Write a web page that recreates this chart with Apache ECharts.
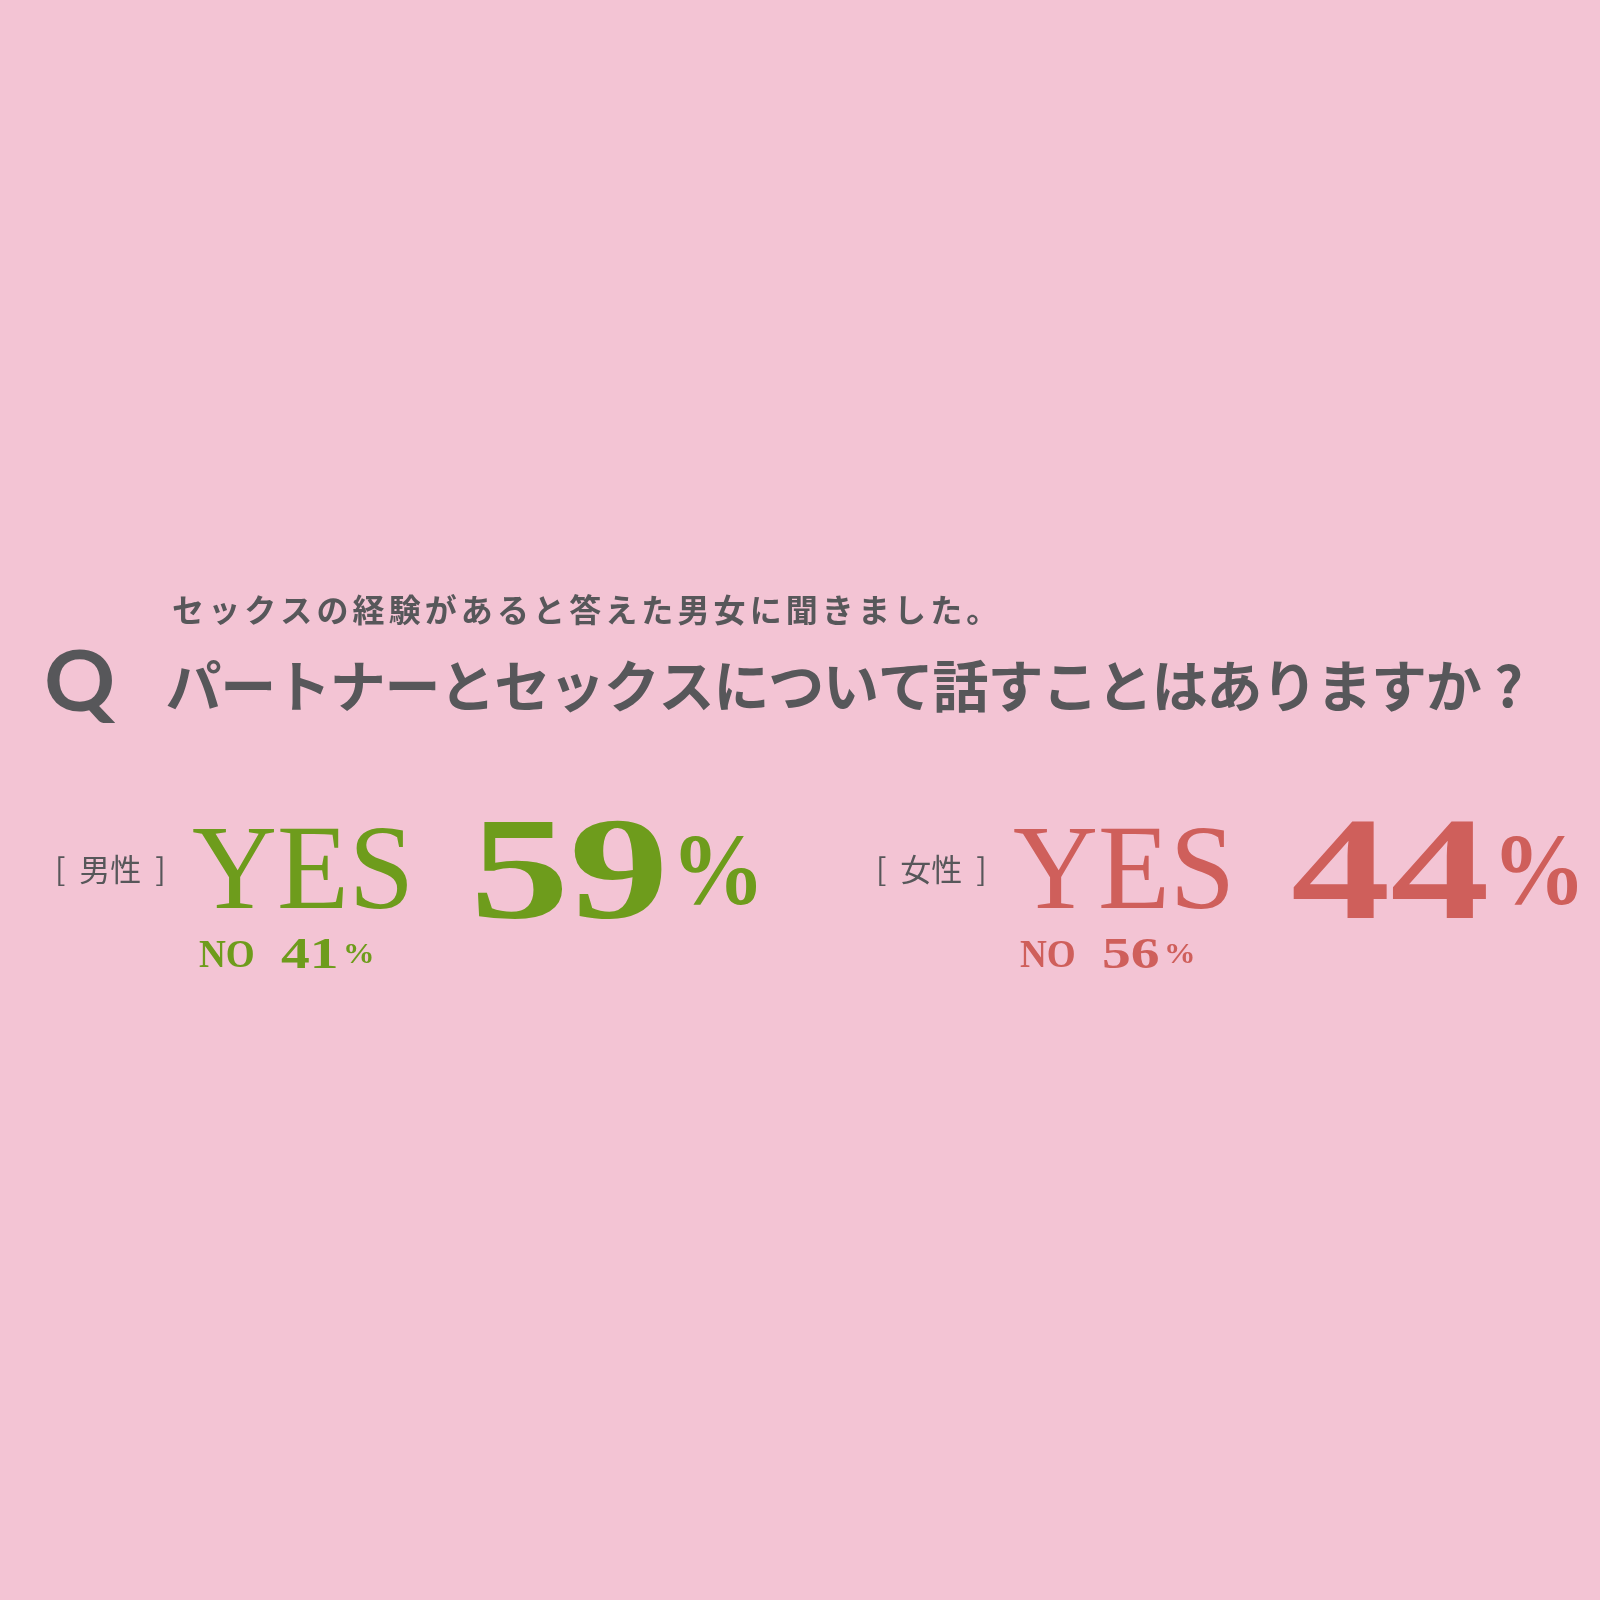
<!DOCTYPE html>
<html>
<head>
<meta charset="utf-8">
<title>パートナーとセックスについて話すことはありますか?</title>
<script src="https://cdn.jsdelivr.net/npm/echarts@6/dist/echarts.min.js"></script>
<style>
  html, body { margin: 0; padding: 0; background: #f3c4d4; }
  #main { width: 1600px; height: 1600px; }
</style>
</head>
<body>
<div id="main"></div>
<script>
// 質問文
var subtitle = 'セックスの経験があると答えた男女に聞きました。';
var question = 'パートナーとセックスについて話すことはありますか?';

// 回答データ
var groups = ['男性', '女性'];
var yesValues = [59, 44];
var noValues = [41, 56];

var colors = ['#6e9c1c', '#cf5f5b'];
var grey = '#57575a';
var jp = '"Noto Sans CJK JP", sans-serif';
var serif = '"Liberation Serif", "DejaVu Serif", serif';

var chart = echarts.init(document.getElementById('main'));
var elements = [];

// 文字を一文字ずつ等間隔に並べる
function spaced(str, x0, y, pitch, size, weight) {
  Array.from(str).forEach(function (ch, i) {
    elements.push({
      type: 'text',
      x: x0 + i * pitch + pitch / 2,
      y: y,
      style: {
        text: ch,
        font: weight + ' ' + size + 'px ' + jp,
        fill: grey,
        align: 'center',
        verticalAlign: 'middle'
      }
    });
  });
}

spaced(subtitle, 170, 610, 36.1, 32, 'bold');

elements.push({
  type: 'text', x: 44, y: 684, scaleX: 1.05,
  style: { text: 'Q', font: 'bold 84px Lato, "Noto Sans", sans-serif', fill: grey, align: 'left', verticalAlign: 'middle' }
});
spaced(question, 166, 686, 54.8, 56, 'bold');

function txt(x, y, text, size, weight, color, sx) {
  elements.push({
    type: 'text', x: x, y: y, scaleX: sx || 1,
    style: {
      text: text,
      font: weight + ' ' + size + 'px ' + serif,
      fill: color,
      align: 'left',
      verticalAlign: 'middle'
    }
  });
}

groups.forEach(function (g, i) {
  var dx = i * 821;
  var c = colors[i];
  elements.push({
    type: 'text', x: 55 + dx, y: 869,
    style: { text: '[  ' + g + '  ]', font: 'normal 31px ' + jp, fill: grey, align: 'left', verticalAlign: 'middle' }
  });
  txt(192 + dx, 876, 'YES', 120, 'normal', c, 0.98);
  txt(470 + dx, 880, String(yesValues[i]), 146, 'bold', c, 1.36);
  txt(671 + dx, 878, '%', 102, 'bold', c, 0.92);
  txt(199 + dx, 957, 'NO', 40, 'bold', c, 0.93);
  txt(281 + dx, 956, String(noValues[i]), 45, 'bold', c, 1.28);
  txt(343 + dx, 955, '%', 30, 'bold', c, 1.05);
});

chart.setOption({
  backgroundColor: '#f3c4d4',
  graphic: { elements: elements }
});
</script>
</body>
</html>
